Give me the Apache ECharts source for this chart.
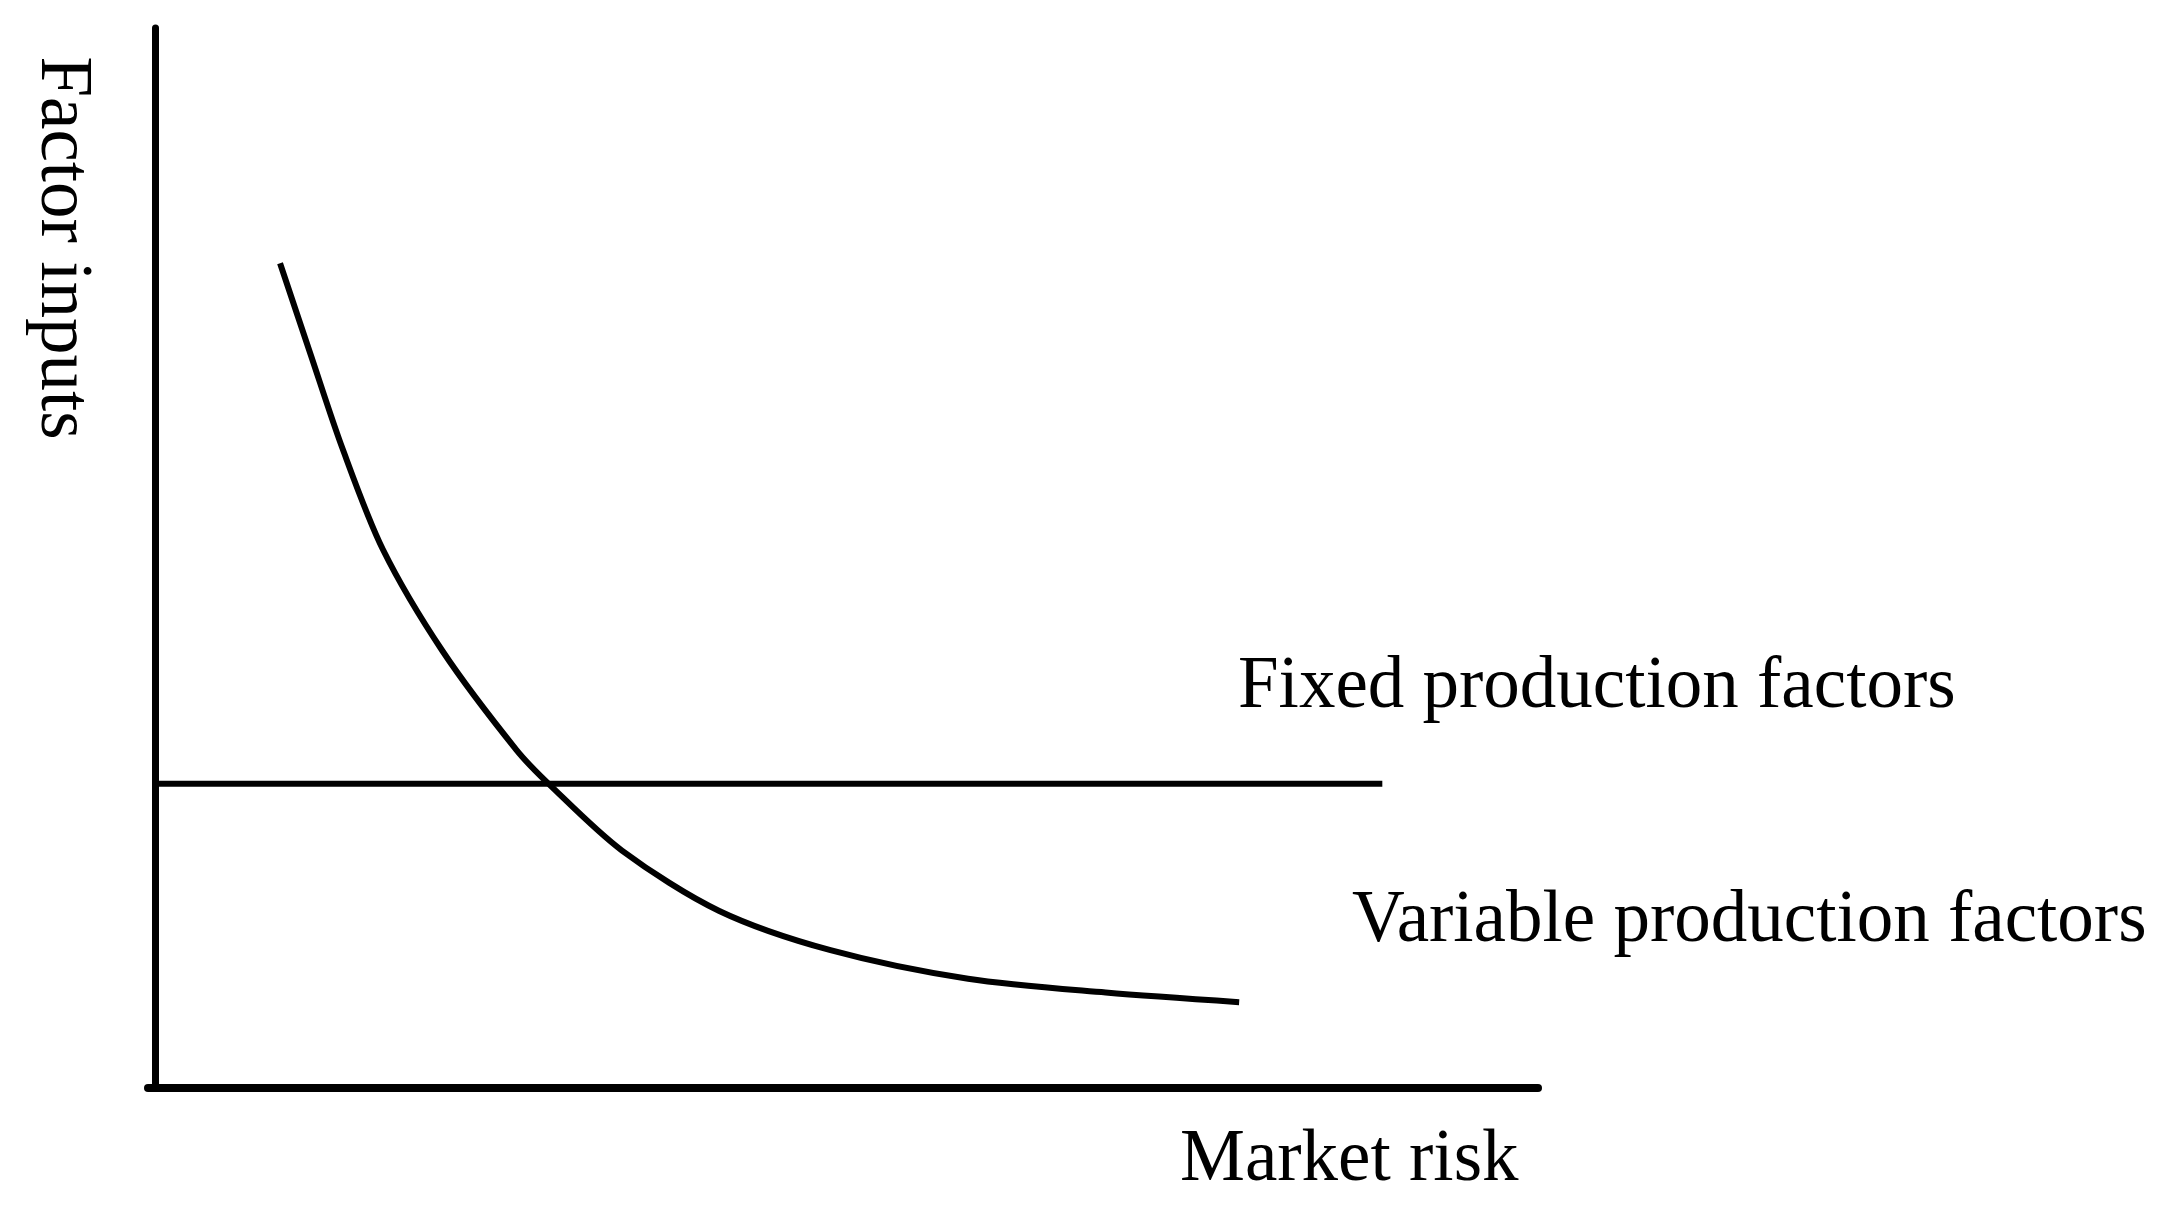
<!DOCTYPE html>
<html>
<head>
<meta charset="utf-8">
<title>Factor inputs vs market risk</title>
<script src="https://cdn.jsdelivr.net/npm/echarts@6/dist/echarts.min.js"></script>
<style>
  html, body { margin: 0; padding: 0; background: #fff; }
  #chart { width: 2168px; height: 1208px; }
</style>
</head>
<body>
<div id="chart"></div>
<script>
// variable production factors curve
var curveX = [9.0, 11.2, 13.5, 16.4, 20.7, 26.0, 28.4, 33.6, 40.6, 48.6, 58.5, 68.4, 78.0];
var curveY = [77.8, 69.2, 60.3, 50.8, 41.2, 31.9, 28.6, 22.4, 16.7, 13.0, 10.3, 9.0, 8.1];

// fixed production factors line
var fixedX = [0, 88.3];
var fixedY = [28.7, 28.7];

var xName = "Market risk";
var yName = "Factor inputs";
var fixedLabel = "Fixed production factors";
var variableLabel = "Variable production factors";

function pairs(xs, ys) {
  return xs.map(function(x, i) {
    return [x, ys[i]];
  });
}

var font = "73px 'Liberation Serif', 'DejaVu Serif', serif";

var chart = echarts.init(document.getElementById("chart"));
chart.setOption({
  backgroundColor: "#ffffff",
  animation: false,
  grid: {
    left: 148,
    right: 630,
    top: 28,
    bottom: 120
  },
  xAxis: {
    type: "value",
    min: -0.5,
    max: 99.5,
    axisLine: { show: true, lineStyle: { color: "#000", width: 8 } },
    axisTick: { show: false },
    axisLabel: { show: false },
    splitLine: { show: false }
  },
  yAxis: {
    type: "value",
    min: 0,
    max: 100,
    axisLine: { show: true, onZero: true, lineStyle: { color: "#000", width: 7 } },
    axisTick: { show: false },
    axisLabel: { show: false },
    splitLine: { show: false }
  },
  series: [
    {
      name: fixedLabel,
      type: "line",
      data: pairs(fixedX, fixedY),
      symbol: "none",
      lineStyle: { color: "#000", width: 6 }
    },
    {
      name: variableLabel,
      type: "line",
      data: pairs(curveX, curveY),
      smooth: 0.3,
      symbol: "none",
      lineStyle: { color: "#000", width: 6 }
    }
  ],
  graphic: [
    {
      type: "text",
      style: { x: 1238, y: 688, text: fixedLabel, font: font, fill: "#000", textAlign: "left", textVerticalAlign: "middle" }
    },
    {
      type: "text",
      style: { x: 1352, y: 922, text: variableLabel, font: font, fill: "#000", textAlign: "left", textVerticalAlign: "middle" }
    },
    {
      type: "text",
      style: { x: 1180, y: 1161, text: xName, font: font, fill: "#000", textAlign: "left", textVerticalAlign: "middle" }
    },
    {
      type: "text",
      x: 61,
      y: 248,
      rotation: -Math.PI / 2,
      style: { x: 0, y: 0, text: yName, font: font, fill: "#000", textAlign: "center", textVerticalAlign: "middle" }
    }
  ]
});
</script>
</body>
</html>
